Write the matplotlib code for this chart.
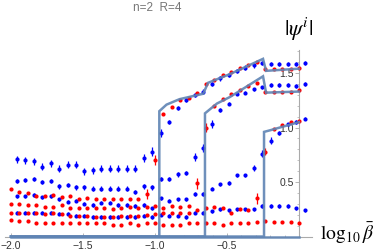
import matplotlib
matplotlib.use("Agg")
import matplotlib.pyplot as plt
import numpy as np

plt.rcParams["mathtext.fontset"] = "stix"
plt.rcParams["font.family"] = ["Liberation Sans", "DejaVu Sans"]

# log10(beta) grid, 35 points
log_beta = np.linspace(-2.0, 0.0, 35)

# blue data set (4 components)
blue_1 = [0.71, 0.70, 0.69, 0.64, 0.67, 0.62, 0.66, 0.66, 0.60, 0.61, 0.62, 0.62,
          0.62, 0.62, 0.62, 0.72, 0.78, 0.95, 1.05, 1.18, 1.25, 1.30, 1.33, 1.40,
          1.45, 1.48, 1.52, 1.55, 1.57, 1.59, 1.58, 1.58, 1.58, 1.58, 1.59]
blue_2 = [0.51, 0.52, 0.53, 0.50, 0.51, 0.46, 0.47, 0.45, 0.45, 0.44, 0.44, 0.44,
          0.44, 0.44, 0.41, 0.46, 0.45, 0.53, 0.53, 0.57, 0.58, 0.73, 0.81, 1.03,
          1.16, 1.22, 1.31, 1.32, 1.35, 1.37, 1.39, 1.39, 1.39, 1.38, 1.40]
blue_3 = [0.37, 0.37, 0.38, 0.36, 0.37, 0.34, 0.32, 0.33, 0.30, 0.29, 0.31, 0.31,
          0.29, 0.29, 0.28, 0.29, 0.26, 0.35, 0.33, 0.34, 0.34, 0.39, 0.39, 0.44,
          0.48, 0.49, 0.56, 0.56, 0.63, 0.76, 0.88, 0.95, 1.03, 1.05, 1.08]
blue_4 = [0.22, 0.22, 0.22, 0.22, 0.22, 0.21, 0.21, 0.19, 0.19, 0.18, 0.18, 0.18,
          0.18, 0.18, 0.18, 0.19, 0.18, 0.20, 0.19, 0.19, 0.18, 0.22, 0.22, 0.23,
          0.25, 0.24, 0.25, 0.25, 0.25, 0.28, 0.28, 0.28, 0.28, 0.26, 0.24]
blue_err_1 = [0.032] * 15 + [0.04, 0.04, 0.04] + [0.02] * 17
blue_err_2 = [0.02] * 21 + [0.035, 0.035, 0.035] + [0.015] * 11
blue_err_3 = [0.015] * 28 + [0.03, 0.03, 0.03] + [0.015] * 4
blue_err_4 = [0.015] * 35

# red data set (4 components)
red_1 = [0.44, 0.41, 0.40, 0.37, 0.37, 0.38, 0.36, 0.37, 0.34, 0.35, 0.34, 0.34,
         0.34, 0.34, 0.34, 0.34, 0.39, 0.70, 1.12, 1.19, 1.25, 1.27, 1.32, 1.40,
         1.44, 1.48, 1.51, 1.55, 1.57, 1.60, 1.54, 1.54, 1.54, 1.54, 1.55]
red_2 = [0.30, 0.30, 0.29, 0.29, 0.27, 0.27, 0.29, 0.26, 0.26, 0.26, 0.26, 0.26,
         0.25, 0.26, 0.27, 0.26, 0.27, 0.28, 0.26, 0.28, 0.27, 0.28, 0.49, 1.00,
         1.20, 1.26, 1.31, 1.34, 1.38, 1.41, 1.33, 1.33, 1.33, 1.33, 1.34]
red_3 = [0.22, 0.22, 0.22, 0.22, 0.21, 0.22, 0.21, 0.19, 0.19, 0.19, 0.18, 0.18,
         0.18, 0.19, 0.19, 0.19, 0.20, 0.21, 0.22, 0.22, 0.22, 0.22, 0.24, 0.26,
         0.27, 0.26, 0.22, 0.25, 0.24, 0.35, 0.78, 0.99, 1.02, 1.05, 1.06]
red_4 = [0.15, 0.14, 0.14, 0.12, 0.12, 0.12, 0.12, 0.12, 0.12, 0.12, 0.12, 0.12,
         0.11, 0.11, 0.12, 0.11, 0.12, 0.12, 0.11, 0.11, 0.11, 0.12, 0.12, 0.12,
         0.12, 0.11, 0.12, 0.12, 0.12, 0.13, 0.14, 0.13, 0.13, 0.13, 0.12]
red_err_1 = [0.008] * 16 + [0.05, 0.045] + [0.008] * 17
red_err_2 = [0.008] * 22 + [0.05, 0.04] + [0.008] * 11
red_err_3 = [0.008] * 29 + [0.05, 0.035] + [0.008] * 4
red_err_4 = [0.008] * 35

# mean-field curves
curve_a_x = [-2.0, -0.97, -0.97, -0.92, -0.83, -0.665, -0.632, -0.48, -0.25, -0.229, 0.0]
curve_a_y = [0.0, 0.0, 1.15, 1.21, 1.26, 1.31, 1.41, 1.49, 1.63, 1.52, 1.54]
curve_b_x = [-2.0, -0.653, -0.653, -0.57, -0.48, -0.25, -0.229, 0.0]
curve_b_y = [0.0, 0.0, 1.13, 1.22, 1.28, 1.47, 1.32, 1.33]
curve_c_x = [-2.0, -0.243, -0.243, -0.2, 0.0]
curve_c_y = [0.0, 0.0, 0.96, 0.975, 1.05]
curve_d_x = [-2.0, 0.0]
curve_d_y = [0.0, 0.0]

fig = plt.figure(figsize=(3.82, 2.52), dpi=100)
ax = fig.add_axes([0, 0, 1, 1])
ax.set_facecolor("none")

blue_shift = 0.04
for vals, errs in [(blue_1, blue_err_1), (blue_2, blue_err_2),
                   (blue_3, blue_err_3), (blue_4, blue_err_4)]:
    ax.errorbar(log_beta + blue_shift, vals, yerr=errs, fmt="o", ms=3.0,
                color="#0000ff", mec="none", elinewidth=0.9, capsize=0, zorder=3)
for vals, errs in [(red_1, red_err_1), (red_2, red_err_2),
                   (red_3, red_err_3), (red_4, red_err_4)]:
    ax.errorbar(log_beta, vals, yerr=errs, fmt="o", ms=3.0,
                color="#ff0000", mec="none", elinewidth=0.9, capsize=0, zorder=3)

line_col = "#5f84b4"
for cx, cy in [(curve_d_x, curve_d_y), (curve_c_x, curve_c_y),
               (curve_b_x, curve_b_y), (curve_a_x, curve_a_y)]:
    ax.plot(cx, cy, color=line_col, lw=1.8, alpha=0.9, zorder=4,
            solid_joinstyle="miter")

ax.set_xlim(-2.076, 0.576)
ax.set_ylim(-0.142, 2.17)

for s in ["top", "right"]:
    ax.spines[s].set_visible(False)
ax.spines["left"].set_position(("data", 0))
ax.spines["bottom"].set_position(("data", 0))
ax.spines["left"].set_bounds(0, 1.71)
ax.spines["bottom"].set_bounds(-2.04, 0.09)
for s in ["left", "bottom"]:
    ax.spines[s].set_color("#aaaaaa")
    ax.spines[s].set_linewidth(0.8)

ax.set_xticks([-2.0, -1.5, -1.0, -0.5])
ax.set_xticklabels(["\u22122.0", "\u22121.5", "\u22121.0", "\u22120.5"])
ax.set_xticks(np.arange(-1.9, 0.0, 0.1), minor=True)
ax.set_yticks([0.5, 1.0, 1.5])
ax.set_yticklabels(["0.5", "1.0", "1.5"])
ax.set_yticks(np.arange(0.1, 1.71, 0.1), minor=True)

ax.tick_params(axis="x", which="both", direction="in", color="#aaaaaa",
               labelcolor="#333333", labelsize=7.5, pad=3.5)
ax.tick_params(axis="x", which="major", length=3, width=0.6)
ax.tick_params(axis="x", which="minor", length=1.8, width=0.5)
ax.tick_params(axis="y", which="both", direction="out", color="#aaaaaa",
               labelcolor="#333333", labelsize=7.5, pad=0.8)
ax.tick_params(axis="y", which="major", length=3, width=0.6)
ax.tick_params(axis="y", which="minor", length=1.8, width=0.5)

ax.text(0.0, 1.90, r"$|\psi^i|$", fontsize=16, ha="center", va="center")
ax.text(0.146, -0.032, r"$\log_{10}\bar{\beta}$", fontsize=14,
        ha="left", va="baseline")
fig.text(157 / 382, 1 - 8 / 252, "n=2  R=4", fontsize=8.5, color="#777777",
         ha="center", va="center")

fig.savefig("out.png", dpi=100)
